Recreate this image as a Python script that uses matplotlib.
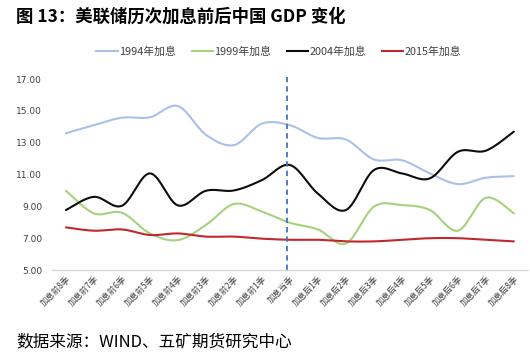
import numpy as np
import matplotlib
matplotlib.use("Agg")
import matplotlib.pyplot as plt
from matplotlib.lines import Line2D

plt.rcParams['font.family'] = ['Noto Sans CJK SC', 'DejaVu Sans']

categories = ["加息前8季", "加息前7季", "加息前6季", "加息前5季", "加息前4季", "加息前3季",
              "加息前2季", "加息前1季", "加息当季", "加息后1季", "加息后2季", "加息后3季",
              "加息后4季", "加息后5季", "加息后6季", "加息后7季", "加息后8季"]
gdp_1994 = [13.6, 14.1, 14.57, 14.6, 15.3, 13.5, 12.85, 14.2, 14.1, 13.3, 13.2, 11.95,
            11.9, 11.07, 10.4, 10.8, 10.9]
gdp_1999 = [9.98, 8.56, 8.6, 7.3, 6.88, 7.83, 9.15, 8.67, 7.97, 7.55, 6.67, 8.98,
            9.08, 8.77, 7.47, 9.54, 8.56]
gdp_2004 = [8.77, 9.6, 9.04, 11.07, 9.06, 9.98, 10.0, 10.65, 11.6, 9.8, 8.77, 11.28,
            11.07, 10.76, 12.43, 12.5, 13.7]
gdp_2015 = [7.68, 7.47, 7.55, 7.2, 7.3, 7.1, 7.1, 6.97, 6.9, 6.9, 6.8, 6.8,
            6.9, 7.0, 7.0, 6.9, 6.8]
series_names = ["1994年加息", "1999年加息", "2004年加息", "2015年加息"]
series_colors = ["#a9c1e8", "#a6d17f", "#0d0d0d", "#c0282d"]
yticks = [5, 7, 9, 11, 13, 15, 17]
hike_index = 8


def smooth(x, y, n=30):
    # Catmull-Rom style smoothing (Excel-like smoothed line)
    x = np.asarray(x, float)
    y = np.asarray(y, float)
    px, py = [], []
    for i in range(len(x) - 1):
        x0, y0 = (x[i - 1], y[i - 1]) if i > 0 else (x[i], y[i])
        x1, y1 = x[i], y[i]
        x2, y2 = x[i + 1], y[i + 1]
        x3, y3 = (x[i + 2], y[i + 2]) if i + 2 < len(x) else (x[i + 1], y[i + 1])
        c1x, c1y = x1 + (x2 - x0) / 6, y1 + (y2 - y0) / 6
        c2x, c2y = x2 - (x3 - x1) / 6, y2 - (y3 - y1) / 6
        t = np.linspace(0, 1, n, endpoint=(i == len(x) - 2))
        bx = (1 - t) ** 3 * x1 + 3 * (1 - t) ** 2 * t * c1x + 3 * (1 - t) * t ** 2 * c2x + t ** 3 * x2
        by = (1 - t) ** 3 * y1 + 3 * (1 - t) ** 2 * t * c1y + 3 * (1 - t) * t ** 2 * c2y + t ** 3 * y2
        px.extend(bx)
        py.extend(by)
    return np.array(px), np.array(py)


fig = plt.figure(figsize=(5.3, 3.61), dpi=100)
ax = fig.add_axes([0.098, 0.252, 0.898, 0.529])

xs = np.arange(len(categories))
for vals, name, col in zip([gdp_1994, gdp_1999, gdp_2004, gdp_2015], series_names, series_colors):
    sx, sy = smooth(xs, vals)
    ax.plot(sx, sy, color=col, lw=1.5, solid_capstyle='round')

ax.axvline(hike_index - 0.1, ymin=0, ymax=1.01, color="#4472c4", lw=1.3, ls=(0, (3, 2.2)),
           clip_on=False)

ax.set_xlim(-0.5, len(categories) - 0.5)
ax.set_ylim(5, 17)
ax.set_yticks(yticks)
ax.set_yticklabels([f"{v:.2f}" for v in yticks], fontsize=6.5, color="#404040", family='DejaVu Sans')
ax.set_xticks(xs)
ax.set_xticklabels(categories, rotation=45, ha='right', rotation_mode='anchor',
                   fontsize=6, color="#404040")
ax.tick_params(axis='both', length=0, pad=3)
ax.tick_params(axis='y', pad=7)
for s in ['top', 'right', 'left']:
    ax.spines[s].set_visible(False)
ax.spines['bottom'].set_color("#d9d9d9")
ax.spines['bottom'].set_linewidth(1.0)

handles = [Line2D([0], [0], color=c, lw=1.5) for c in series_colors]
fig.legend(handles, series_names, loc='center', bbox_to_anchor=(0.526, 1 - 52 / 361), ncol=4,
           frameon=False, fontsize=7.8, handlelength=1.95, handletextpad=0.1, columnspacing=1.5,
           labelcolor="#404040")

fig.text(16 / 530, 1 - 17 / 361, "图 13：美联储历次加息前后中国 GDP 变化", fontsize=12.5,
         fontweight='bold', va='center', ha='left', color="#000000")
fig.text(16 / 530, 1 - 342 / 361, "数据来源：WIND、五矿期货研究中心", fontsize=12,
         va='center', ha='left', color="#000000")

fig.savefig("out.png", dpi=100)
